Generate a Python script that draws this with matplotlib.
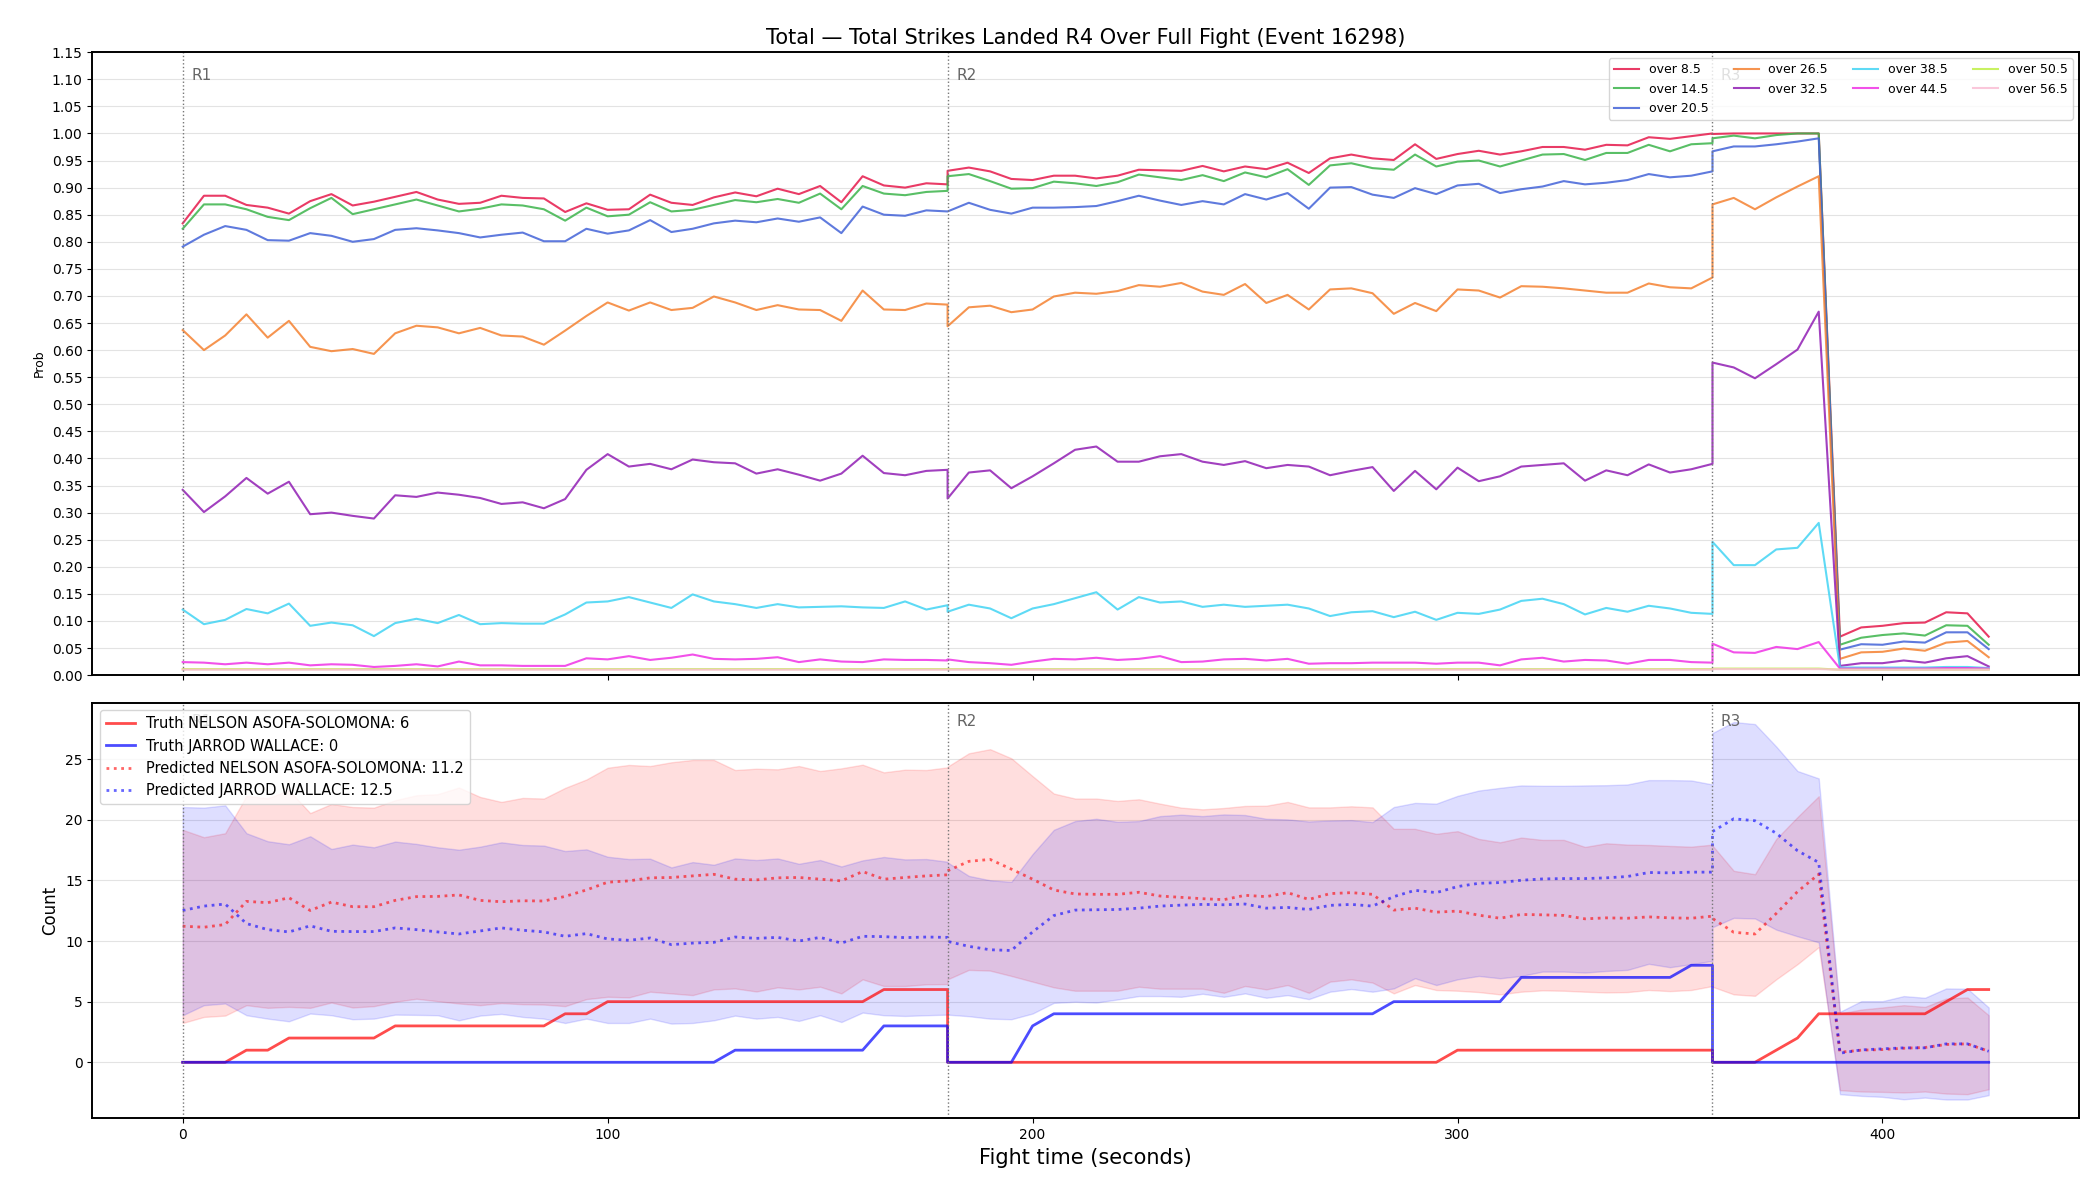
import numpy as np
import matplotlib
matplotlib.use("Agg")
import matplotlib.pyplot as plt
from matplotlib.transforms import blended_transform_factory

# ---- time grid (seconds): R1 0..180, R2 180..360, R3 360..425 (5 s samples)
t_r1 = list(range(0, 181, 5))
t_r2 = list(range(180, 361, 5))
t_r3 = list(range(360, 426, 5))
time_s = np.array(t_r1 + t_r2 + t_r3, dtype=float)

round_starts = [0, 180, 360]
round_labels = ["R1", "R2", "R3"]

# ---- top panel: P(over line)
line_labels = ["over 8.5", "over 14.5", "over 20.5", "over 26.5", "over 32.5",
               "over 38.5", "over 44.5", "over 50.5", "over 56.5"]
line_colors = ["#e6194b", "#3cb44b", "#4363d8", "#f58231", "#911eb4",
               "#42d4f4", "#f032e6", "#bfef45", "#fabed4"]

over_8_5 = [0.834, 0.885, 0.885, 0.868, 0.863, 0.852, 0.875, 0.888, 0.867, 0.874, 0.883, 0.892, 0.878, 0.870, 0.872, 0.885, 0.881, 0.880, 0.855, 0.871, 0.859, 0.860, 0.887, 0.872, 0.868, 0.882, 0.891, 0.884, 0.898, 0.888, 0.903, 0.873, 0.921, 0.904, 0.900, 0.908, 0.906,
            0.931, 0.937, 0.930, 0.916, 0.914, 0.922, 0.922, 0.917, 0.922, 0.933, 0.932, 0.931, 0.940, 0.930, 0.939, 0.934, 0.946, 0.927, 0.954, 0.961, 0.954, 0.951, 0.980, 0.953, 0.962, 0.968, 0.961, 0.967, 0.975, 0.975, 0.970, 0.979, 0.978, 0.993, 0.990, 0.995, 1.000,
            0.999, 1.000, 1.000, 1.000, 1.000, 1.000, 0.071, 0.088, 0.091, 0.096, 0.097, 0.116, 0.114, 0.071]
over_14_5 = [0.824, 0.869, 0.869, 0.860, 0.846, 0.840, 0.862, 0.881, 0.851, 0.860, 0.869, 0.878, 0.867, 0.856, 0.861, 0.869, 0.867, 0.860, 0.839, 0.863, 0.847, 0.850, 0.873, 0.856, 0.859, 0.868, 0.877, 0.873, 0.879, 0.872, 0.889, 0.860, 0.903, 0.889, 0.886, 0.892, 0.894,
             0.921, 0.925, 0.912, 0.898, 0.899, 0.911, 0.908, 0.903, 0.910, 0.924, 0.919, 0.914, 0.923, 0.912, 0.928, 0.919, 0.934, 0.905, 0.941, 0.945, 0.936, 0.933, 0.961, 0.939, 0.948, 0.950, 0.939, 0.950, 0.961, 0.962, 0.951, 0.964, 0.964, 0.979, 0.967, 0.980, 0.982,
             0.991, 0.996, 0.991, 0.997, 1.000, 1.000, 0.056, 0.069, 0.074, 0.077, 0.073, 0.092, 0.091, 0.056]
over_20_5 = [0.791, 0.813, 0.829, 0.822, 0.803, 0.802, 0.816, 0.811, 0.800, 0.805, 0.822, 0.825, 0.821, 0.816, 0.808, 0.813, 0.817, 0.801, 0.801, 0.824, 0.815, 0.821, 0.840, 0.818, 0.824, 0.834, 0.839, 0.836, 0.843, 0.837, 0.845, 0.816, 0.865, 0.850, 0.848, 0.858, 0.856,
             0.856, 0.872, 0.859, 0.852, 0.863, 0.863, 0.864, 0.866, 0.875, 0.885, 0.876, 0.868, 0.875, 0.869, 0.888, 0.878, 0.890, 0.861, 0.900, 0.901, 0.887, 0.881, 0.899, 0.888, 0.904, 0.907, 0.890, 0.897, 0.902, 0.912, 0.906, 0.909, 0.914, 0.925, 0.919, 0.922, 0.930,
             0.967, 0.976, 0.976, 0.980, 0.985, 0.991, 0.047, 0.057, 0.056, 0.062, 0.060, 0.079, 0.079, 0.048]
over_26_5 = [0.637, 0.600, 0.627, 0.666, 0.623, 0.654, 0.606, 0.598, 0.602, 0.593, 0.631, 0.645, 0.642, 0.631, 0.641, 0.627, 0.625, 0.610, 0.636, 0.663, 0.688, 0.673, 0.688, 0.674, 0.678, 0.699, 0.688, 0.674, 0.683, 0.675, 0.674, 0.654, 0.710, 0.675, 0.674, 0.686, 0.684,
             0.644, 0.679, 0.682, 0.670, 0.675, 0.699, 0.706, 0.704, 0.709, 0.720, 0.717, 0.724, 0.708, 0.702, 0.722, 0.687, 0.702, 0.675, 0.712, 0.714, 0.705, 0.667, 0.687, 0.672, 0.712, 0.710, 0.697, 0.718, 0.717, 0.714, 0.710, 0.706, 0.706, 0.723, 0.716, 0.714, 0.734,
             0.869, 0.881, 0.860, 0.882, 0.902, 0.921, 0.030, 0.042, 0.043, 0.049, 0.045, 0.060, 0.063, 0.033]
over_32_5 = [0.342, 0.301, 0.330, 0.364, 0.335, 0.357, 0.297, 0.300, 0.294, 0.289, 0.332, 0.329, 0.337, 0.333, 0.327, 0.316, 0.319, 0.308, 0.325, 0.379, 0.408, 0.385, 0.390, 0.380, 0.398, 0.393, 0.391, 0.372, 0.380, 0.370, 0.359, 0.372, 0.405, 0.373, 0.369, 0.377, 0.379,
             0.326, 0.374, 0.378, 0.345, 0.367, 0.391, 0.416, 0.422, 0.394, 0.394, 0.404, 0.408, 0.394, 0.388, 0.395, 0.382, 0.388, 0.385, 0.369, 0.377, 0.384, 0.340, 0.377, 0.343, 0.383, 0.358, 0.367, 0.385, 0.388, 0.391, 0.359, 0.378, 0.369, 0.389, 0.374, 0.380, 0.390,
             0.577, 0.568, 0.548, 0.574, 0.601, 0.671, 0.017, 0.022, 0.022, 0.027, 0.023, 0.031, 0.035, 0.016]
over_38_5 = [0.121, 0.094, 0.102, 0.122, 0.114, 0.132, 0.091, 0.097, 0.092, 0.072, 0.096, 0.104, 0.096, 0.111, 0.094, 0.096, 0.095, 0.095, 0.112, 0.134, 0.136, 0.144, 0.134, 0.124, 0.149, 0.136, 0.131, 0.124, 0.131, 0.125, 0.126, 0.127, 0.125, 0.124, 0.136, 0.121, 0.129,
             0.117, 0.130, 0.123, 0.105, 0.123, 0.131, 0.142, 0.153, 0.121, 0.144, 0.134, 0.136, 0.126, 0.130, 0.126, 0.128, 0.130, 0.123, 0.109, 0.116, 0.118, 0.107, 0.117, 0.102, 0.115, 0.113, 0.121, 0.137, 0.141, 0.131, 0.112, 0.124, 0.117, 0.128, 0.123, 0.115, 0.113,
             0.246, 0.203, 0.203, 0.232, 0.235, 0.281, 0.014, 0.014, 0.014, 0.014, 0.014, 0.015, 0.015, 0.013]
over_44_5 = [0.024, 0.023, 0.020, 0.023, 0.020, 0.023, 0.018, 0.020, 0.019, 0.015, 0.017, 0.020, 0.016, 0.025, 0.018, 0.018, 0.017, 0.017, 0.017, 0.031, 0.029, 0.035, 0.028, 0.032, 0.038, 0.030, 0.029, 0.030, 0.033, 0.024, 0.029, 0.025, 0.024, 0.029, 0.028, 0.028, 0.027,
             0.029, 0.024, 0.022, 0.019, 0.025, 0.030, 0.029, 0.032, 0.028, 0.030, 0.035, 0.024, 0.025, 0.029, 0.030, 0.027, 0.030, 0.021, 0.022, 0.022, 0.023, 0.023, 0.023, 0.021, 0.023, 0.023, 0.018, 0.029, 0.032, 0.025, 0.028, 0.027, 0.021, 0.028, 0.028, 0.024, 0.023,
             0.058, 0.042, 0.041, 0.052, 0.048, 0.061, 0.012, 0.012, 0.012, 0.012, 0.012, 0.013, 0.013, 0.012]
over_50_5 = [0.011] * 37 + [0.011] * 37 + [0.012] * 6 + [0.010] * 8
over_56_5 = [0.010] * 37 + [0.010] * 37 + [0.011] * 6 + [0.010] * 8

prob_series = [over_8_5, over_14_5, over_20_5, over_26_5, over_32_5,
               over_38_5, over_44_5, over_50_5, over_56_5]

# ---- bottom panel: counts
name_a = "NELSON ASOFA-SOLOMONA"
name_b = "JARROD WALLACE"

truth_a = [0, 0, 0, 1, 1, 2, 2, 2, 2, 2, 3, 3, 3, 3, 3, 3, 3, 3, 4, 4, 5, 5, 5, 5, 5, 5, 5, 5, 5, 5, 5, 5, 5, 6, 6, 6, 6,
           0, 0, 0, 0, 0, 0, 0, 0, 0, 0, 0, 0, 0, 0, 0, 0, 0, 0, 0, 0, 0, 0, 0, 0, 1, 1, 1, 1, 1, 1, 1, 1, 1, 1, 1, 1, 1,
           0, 0, 0, 1, 2, 4, 4, 4, 4, 4, 4, 5, 6, 6]
truth_b = [0, 0, 0, 0, 0, 0, 0, 0, 0, 0, 0, 0, 0, 0, 0, 0, 0, 0, 0, 0, 0, 0, 0, 0, 0, 0, 1, 1, 1, 1, 1, 1, 1, 3, 3, 3, 3,
           0, 0, 0, 0, 3, 4, 4, 4, 4, 4, 4, 4, 4, 4, 4, 4, 4, 4, 4, 4, 4, 5, 5, 5, 5, 5, 5, 7, 7, 7, 7, 7, 7, 7, 7, 8, 8,
           0, 0, 0, 0, 0, 0, 0, 0, 0, 0, 0, 0, 0, 0]
pred_a = [11.22, 11.14, 11.36, 13.27, 13.16, 13.57, 12.52, 13.21, 12.83, 12.83, 13.35, 13.66, 13.68, 13.80, 13.35, 13.24, 13.32, 13.30, 13.68, 14.21, 14.85, 14.96, 15.21, 15.24, 15.37, 15.50, 15.10, 15.04, 15.21, 15.24, 15.10, 14.96, 15.73, 15.10, 15.24, 15.37, 15.46,
          15.79, 16.57, 16.73, 15.93, 15.10, 14.21, 13.88, 13.85, 13.85, 14.02, 13.71, 13.60, 13.49, 13.41, 13.77, 13.66, 13.99, 13.43, 13.91, 13.99, 13.85, 12.55, 12.71, 12.38, 12.47, 12.13, 11.88, 12.19, 12.16, 12.11, 11.83, 11.91, 11.88, 11.99, 11.91, 11.88, 12.05,
          11.86, 10.72, 10.58, 12.27, 14.07, 15.51, 0.83, 1.00, 1.05, 1.16, 1.22, 1.47, 1.52, 0.91]
pred_b = [12.52, 12.88, 13.05, 11.44, 10.94, 10.75, 11.25, 10.80, 10.78, 10.78, 11.08, 10.94, 10.75, 10.58, 10.83, 11.08, 10.89, 10.75, 10.39, 10.61, 10.17, 10.06, 10.25, 9.70, 9.83, 9.89, 10.33, 10.22, 10.30, 10.00, 10.30, 9.83, 10.39, 10.36, 10.28, 10.33, 10.30,
          9.97, 9.56, 9.28, 9.22, 10.75, 12.10, 12.55, 12.58, 12.60, 12.71, 12.88, 12.96, 13.02, 12.99, 13.05, 12.71, 12.77, 12.60, 12.94, 13.02, 12.88, 13.66, 14.18, 13.99, 14.49, 14.76, 14.82, 15.01, 15.12, 15.15, 15.15, 15.21, 15.32, 15.65, 15.62, 15.68, 15.68,
          19.03, 20.08, 19.92, 18.89, 17.45, 16.48, 0.75, 1.02, 1.11, 1.19, 1.19, 1.52, 1.52, 0.91]
hi_a = [19.17, 18.56, 18.89, 21.97, 21.77, 22.44, 20.55, 21.30, 21.05, 21.00, 21.61, 22.02, 22.11, 22.66, 21.88, 21.47, 21.80, 21.75, 22.63, 23.32, 24.29, 24.52, 24.43, 24.74, 24.93, 24.93, 24.10, 24.21, 24.16, 24.43, 24.02, 24.24, 24.54, 23.91, 24.13, 24.10, 24.32,
        24.38, 25.48, 25.82, 25.07, 23.60, 22.16, 21.75, 21.75, 21.55, 21.69, 21.33, 21.00, 20.86, 20.97, 21.14, 21.16, 21.47, 21.02, 21.02, 21.11, 21.02, 19.25, 19.25, 18.84, 19.06, 18.42, 18.14, 18.53, 18.34, 18.34, 17.76, 18.06, 17.95, 17.92, 17.84, 17.78, 17.95,
        17.87, 15.79, 15.51, 18.42, 20.22, 21.94, 4.02, 4.35, 4.52, 4.71, 4.57, 5.26, 5.35, 3.88]
lo_a = [3.24, 3.74, 3.85, 4.71, 4.49, 4.57, 4.49, 4.93, 4.52, 4.63, 4.99, 5.24, 5.04, 4.85, 4.71, 4.88, 4.79, 4.76, 4.63, 5.21, 5.40, 5.35, 5.82, 5.68, 5.54, 6.01, 6.09, 5.84, 6.18, 6.01, 6.23, 5.68, 6.84, 6.29, 6.29, 6.43, 6.45,
        6.84, 7.62, 7.56, 7.12, 6.65, 6.18, 5.90, 5.90, 5.90, 6.23, 6.07, 6.07, 6.07, 5.73, 6.29, 6.01, 6.37, 5.73, 6.65, 6.84, 6.57, 5.68, 6.37, 5.96, 5.90, 5.79, 5.60, 5.82, 5.93, 5.90, 5.82, 5.76, 5.79, 5.96, 5.87, 5.96, 6.29,
        6.23, 5.60, 5.48, 6.84, 8.09, 9.50, -2.30, -2.41, -2.44, -2.49, -2.41, -2.58, -2.63, -2.22]
hi_b = [21.05, 21.00, 21.19, 18.89, 18.23, 17.98, 18.64, 17.59, 17.95, 17.73, 18.20, 18.01, 17.73, 17.53, 17.78, 18.14, 17.92, 17.87, 17.42, 17.56, 16.95, 16.76, 16.79, 16.07, 16.51, 16.29, 16.81, 16.68, 16.81, 16.37, 16.68, 16.15, 16.65, 16.93, 16.73, 16.76, 16.54,
        16.48, 15.37, 15.01, 14.88, 17.17, 19.17, 19.89, 20.08, 19.83, 19.89, 20.30, 20.42, 20.30, 20.44, 20.39, 20.08, 20.03, 19.86, 19.94, 19.97, 19.81, 21.05, 21.39, 21.33, 21.97, 22.41, 22.63, 22.83, 22.80, 22.80, 22.83, 22.85, 22.91, 23.27, 23.27, 23.24, 22.91,
        27.15, 28.06, 27.89, 26.04, 24.02, 23.41, 4.16, 5.04, 5.04, 5.46, 5.32, 6.09, 6.07, 4.52]
lo_b = [3.88, 4.71, 4.85, 3.88, 3.60, 3.38, 4.02, 3.88, 3.55, 3.60, 3.93, 3.91, 3.88, 3.46, 3.85, 3.99, 3.74, 3.60, 3.24, 3.60, 3.24, 3.24, 3.60, 3.19, 3.24, 3.46, 3.85, 3.60, 3.74, 3.41, 3.88, 3.32, 4.10, 3.88, 3.82, 3.88, 3.93,
        3.93, 3.80, 3.60, 3.55, 4.02, 4.90, 4.99, 4.93, 5.18, 5.46, 5.46, 5.40, 5.65, 5.40, 5.68, 5.32, 5.54, 5.21, 5.82, 6.04, 5.82, 6.09, 6.93, 6.37, 6.84, 7.12, 6.93, 7.12, 7.48, 7.48, 7.40, 7.53, 7.62, 8.12, 7.84, 8.09, 8.37,
        11.14, 11.91, 11.86, 10.94, 10.39, 9.89, -2.63, -2.77, -2.85, -3.05, -2.91, -3.07, -3.07, -2.71]

final_truth_a = 6
final_truth_b = 0
initial_pred_a = 11.2
initial_pred_b = 12.5

# ---- figure
fig, (ax1, ax2) = plt.subplots(2, 1, figsize=(21, 12), dpi=100, sharex=True,
                               gridspec_kw={"height_ratios": [3, 2]})
fig.subplots_adjust(left=0.044, right=0.99, top=0.9565, bottom=0.068, hspace=0.054)

for lab, col, vals in zip(line_labels, line_colors, prob_series):
    ax1.plot(time_s, vals, color=col, lw=1.5, alpha=0.85, label=lab)

ax1.set_ylim(0, 1.15)
yt = np.round(np.arange(0, 1.1501, 0.05), 2)
ax1.set_yticks(yt)
ax1.set_yticklabels([f"{v:.2f}" for v in yt])
ax1.set_ylabel("Prob", fontsize=9)
ax1.yaxis.grid(True, color="#e3e3e3", lw=0.8)
ax1.set_axisbelow(True)
ax1.legend(loc="upper right", ncol=4, fontsize=9)
ax1.set_title("Total \u2014 Total Strikes Landed R4 Over Full Fight (Event 16298)", fontsize=15)

# bottom
ax2.fill_between(time_s, lo_a, hi_a, color="red", alpha=0.13)
ax2.fill_between(time_s, lo_b, hi_b, color="blue", alpha=0.13)
ax2.plot(time_s, truth_a, color="red", lw=2, alpha=0.7, label=f"Truth {name_a}: {final_truth_a}")
ax2.plot(time_s, truth_b, color="blue", lw=2, alpha=0.7, label=f"Truth {name_b}: {final_truth_b}")
ax2.plot(time_s, pred_a, color="red", lw=2, ls=":", alpha=0.6, label=f"Predicted {name_a}: {initial_pred_a}")
ax2.plot(time_s, pred_b, color="blue", lw=2, ls=":", alpha=0.6, label=f"Predicted {name_b}: {initial_pred_b}")
ax2.set_ylabel("Count", fontsize=12)
ax2.set_xlabel("Fight time (seconds)", fontsize=15)
ax2.yaxis.grid(True, color="#e3e3e3", lw=0.8)
ax2.set_axisbelow(True)

for ax in (ax1, ax2):
    for sp in ax.spines.values():
        sp.set_linewidth(1.4)
    tr = blended_transform_factory(ax.transData, ax.transAxes)
    for x0, rl in zip(round_starts, round_labels):
        ax.axvline(x0, color="#777777", ls=":", lw=1)
        ax.text(x0 + 2, 0.975, rl, transform=tr, va="top", ha="left",
                color="#666666", fontsize=11)

ax2.legend(loc="upper left", fontsize=10.5)

fig.savefig("out.png", dpi=100)
